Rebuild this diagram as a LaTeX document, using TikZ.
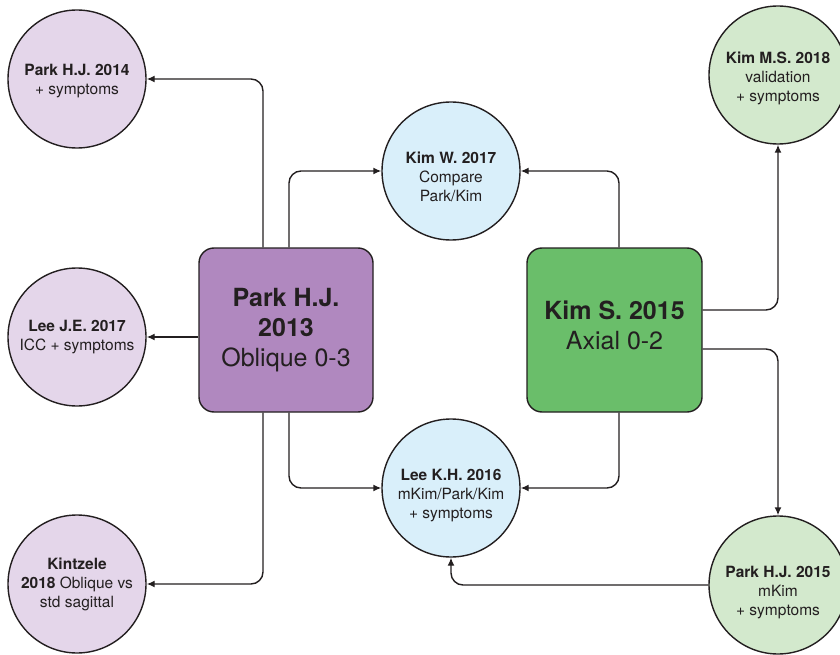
\documentclass[tikz,border=0pt]{standalone}
\usepackage{fontspec}
\setmainfont{TeX Gyre Heros}
\usetikzlibrary{arrows.meta}
\definecolor{ink}{HTML}{231F20}
\definecolor{lav}{HTML}{E4D6EA}
\definecolor{purp}{HTML}{B088BF}
\definecolor{grn}{HTML}{6ABE6A}
\definecolor{lgrn}{HTML}{D3E9CD}
\definecolor{lblue}{HTML}{D9EFFA}
\tikzset{
  circ/.style={circle, draw=ink, line width=1.4pt, minimum size=138pt, inner sep=0pt},
  ctext/.style={align=center, text=ink, inner sep=0pt, font=\fontsize{15.5}{19}\selectfont},
  btext/.style={align=center, text=ink, inner sep=0pt, font=\fontsize{25}{30}\selectfont},
  bigbox/.style={rectangle, rounded corners=15pt, draw=ink, line width=1.4pt,
    minimum width=174pt, minimum height=164pt, inner sep=0pt},
  arr/.style={draw=ink, line width=1.4pt, rounded corners=12pt,
    -{Latex[length=8pt,width=7pt]}}
}
\begin{document}
\begin{tikzpicture}[x=1pt,y=-1pt]
\useasboundingbox (0,0) rectangle (840,655);
% left circles
\node[circ, fill=lav, label={[ctext, yshift=-2pt]center:{\textbf{Park H.J. 2014}\\+ symptoms}}] (p14) at (77,79) {};
\node[circ, fill=lav, label={[ctext]center:{\textbf{Lee J.E. 2017}\\ICC + symptoms}}] (lje) at (77,337) {};
\node[circ, fill=lav, label={[ctext]center:{\textbf{Kintzele}\\\textbf{2018} Oblique vs\\std sagittal}}] (kin) at (77,584) {};
% middle circles
\node[circ, fill=lblue, label={[ctext, yshift=-6pt]center:{\textbf{Kim W. 2017}\\Compare\\Park/Kim}}] (kw) at (451,171) {};
\node[circ, fill=lblue, label={[ctext, yshift=-8pt]center:{\textbf{Lee K.H. 2016}\\mKim/Park/Kim\\+ symptoms}}] (lkh) at (451,488) {};
% right circles
\node[circ, fill=lgrn, label={[ctext, yshift=-3pt]center:{\textbf{Kim M.S. 2018}\\validation\\+ symptoms}}] (kms) at (778,75) {};
\node[circ, fill=lgrn, label={[ctext, yshift=-8pt]center:{\textbf{Park H.J. 2015}\\mKim\\+ symptoms}}] (p15) at (778,585) {};
% boxes
\node[bigbox, fill=purp, label={[btext]center:{\textbf{Park H.J.}\\\textbf{2013}\\Oblique 0-3}}] (pbox) at (286,330) {};
\node[bigbox, fill=grn, minimum width=175pt, label={[btext, yshift=5pt]center:{\textbf{Kim S. 2015}\\Axial 0-2}}] (gbox) at (614.5,330) {};
% connectors
\draw[arr] ([xshift=-23pt]pbox.north) |- (p14);
\draw[arr] ([xshift=3pt]pbox.north) |- (kw);
\draw[arr] (pbox.west |- lje) -- (lje);
\draw[arr] ([xshift=-23pt]pbox.south) |- (kin);
\draw[arr] ([xshift=3pt]pbox.south) |- (lkh);
\draw[arr] ([xshift=4.5pt]gbox.north) |- (kw);
\draw[arr] ([xshift=4.5pt]gbox.south) |- (lkh);
\draw[arr] ([yshift=20pt]gbox.east) -| (kms);
\draw[arr] ([yshift=-19pt]gbox.east) -| (p15);
\draw[arr] (p15.west) -| (lkh);
\end{tikzpicture}
\end{document}
